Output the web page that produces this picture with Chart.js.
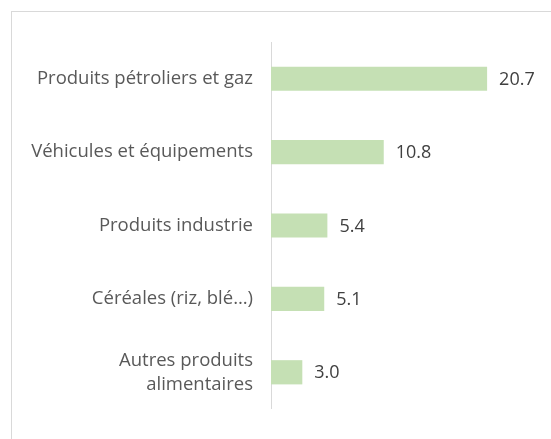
<!DOCTYPE html>
<html>
<head>
<meta charset="utf-8">
<script src="https://cdn.jsdelivr.net/npm/chart.js@4/dist/chart.umd.min.js"></script>
<style>
  html, body { margin: 0; padding: 0; background: #fff; overflow: hidden; }
  #wrap { position: relative; width: 551px; height: 439px; }
  #frame { position: absolute; left: 11px; top: 11px; width: 600px; height: 500px; border: 1px solid #d9d9d9; box-sizing: border-box; }
  canvas { position: absolute; left: 0; top: 0; }
</style>
</head>
<body>
<div id="wrap">
  <div id="frame"></div>
  <canvas id="chart" width="551" height="439"></canvas>
</div>
<script>
const categories = [
    "Produits pétroliers et gaz",
    "Véhicules et équipements",
    "Produits industrie",
    "Céréales (riz, blé…)",
    ["Autres produits", "alimentaires"],
];
const values = [20.7, 10.8, 5.4, 5.1, 3.0];
const xMax = 25;

// étiquettes de valeur à droite des barres
const valueLabels = {
    id: "valueLabels",
    afterDatasetsDraw(chart) {
        const ctx = chart.ctx;
        const meta = chart.getDatasetMeta(0);
        ctx.save();
        ctx.font = "18px 'Open Sans'";
        ctx.fillStyle = "#404040";
        ctx.textAlign = "left";
        ctx.textBaseline = "middle";
        meta.data.forEach((bar, i) => {
            ctx.fillText(values[i].toFixed(1), bar.x + 12, bar.y + 1);
        });
        ctx.restore();
    },
};

new Chart(document.getElementById("chart"), {
    type: "bar",
    data: {
        labels: categories,
        datasets: [
            {
                data: values,
                backgroundColor: "#c5e0b4",
                borderWidth: 0,
                barPercentage: 0.33,
                categoryPercentage: 1,
            },
        ],
    },
    options: {
        indexAxis: "y",
        responsive: false,
        animation: false,
        events: [],
        layout: { padding: { top: 40, bottom: 26, right: 19, left: 0 } },
        plugins: {
            legend: { display: false },
            tooltip: { enabled: false },
        },
        scales: {
            x: {
                display: false,
                min: 0,
                max: xMax,
            },
            y: {
                afterFit(scale) {
                    scale.width = 271;
                },
                grid: { display: false, drawTicks: false },
                border: { display: true, color: "#d9d9d9", width: 1 },
                ticks: {
                    padding: 18,
                    color: "#595959",
                    font: { family: "'Open Sans'", size: 18.5, lineHeight: 1.3 },
                },
            },
        },
    },
    plugins: [valueLabels],
});
</script>
</body>
</html>
